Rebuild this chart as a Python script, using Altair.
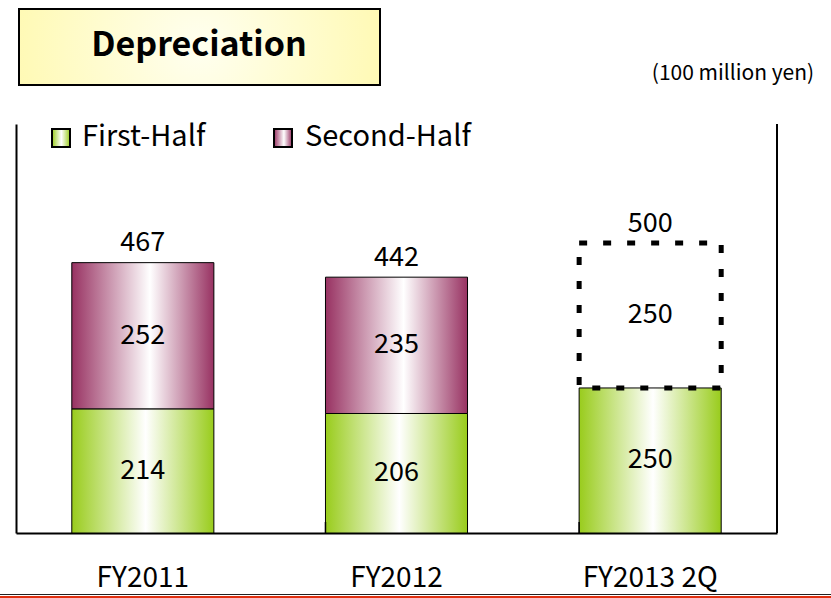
import altair as alt
import pandas as pd

# ---------------- data ----------------
categories = ["FY2011", "FY2012", "FY2013 2Q"]
series_names = ["First-Half", "Second-Half"]
first_half = [214, 206, 250]
second_half = [252, 235, 250]
totals = [467, 442, 500]
second_is_plan = [False, False, True]

FONT = "Noto Sans CJK JP"
W, H = 761, 409

rows = []
for c, f, s, p in zip(categories, first_half, second_half, second_is_plan):
    rows.append(dict(cat=c, seg=series_names[0], y0=0, y1=f, mid=f / 2, label=str(f), plan=False))
    rows.append(dict(cat=c, seg=series_names[1], y0=f, y1=f + s, mid=f + s / 2, label=str(s), plan=p))
seg_df = pd.DataFrame(rows)
tot_df = pd.DataFrame(dict(cat=categories, total=totals))
tick_df = pd.DataFrame(dict(cat=categories[1:]))
one = pd.DataFrame({"k": [0]})

xscale = alt.Scale(domain=categories, paddingInner=0.44, paddingOuter=0.22)
yscale = alt.Scale(domain=[0, 705], nice=False, zero=True)
xaxis = alt.Axis(title=None, ticks=False, labelAngle=0, labelFontSize=28, labelFont=FONT,
                 labelColor="black", labelPadding=31, domainColor="black", domainWidth=2)
yaxis = alt.Axis(title=None, labels=False, ticks=False, grid=False, domainColor="black", domainWidth=2)


def X(**kw):
    return alt.X("cat:N", scale=xscale, axis=xaxis, sort=categories, **kw)


def grad(edge, mid="#ffffff", at=0.55):
    return alt.Gradient(
        gradient="linear", x1=0, x2=1, y1=0, y2=0,
        stops=[alt.GradientStop(color=edge, offset=0),
               alt.GradientStop(color=mid, offset=at),
               alt.GradientStop(color=edge, offset=1)],
    )


green = grad("#99cc1c", at=0.52)
purple = grad("#983262", at=0.55)
yellow = alt.Gradient(
    gradient="radial", x1=0.5, y1=0.5, r1=0, x2=0.5, y2=0.5, r2=0.75,
    stops=[alt.GradientStop(color="#fffff0", offset=0),
           alt.GradientStop(color="#fff799", offset=1)],
)

base = alt.Chart(seg_df)

first_bars = base.transform_filter(alt.datum.seg == series_names[0]).mark_bar(
    fill=green, stroke="black", strokeWidth=1
).encode(x=X(), y=alt.Y("y0:Q", scale=yscale, axis=yaxis), y2="y1:Q")

second_bars = base.transform_filter(
    (alt.datum.seg == series_names[1]) & (alt.datum.plan == False)
).mark_bar(fill=purple, stroke="black", strokeWidth=1).encode(
    x=X(), y=alt.Y("y0:Q", scale=yscale, axis=yaxis), y2="y1:Q")

plan_bars = base.transform_filter(
    (alt.datum.seg == series_names[1]) & (alt.datum.plan == True)
).mark_bar(fill="white", fillOpacity=0, stroke="black", strokeWidth=5, strokeDash=[8, 16]).encode(
    x=X(), y=alt.Y("y0:Q", scale=yscale, axis=yaxis), y2="y1:Q")

seg_text = base.mark_text(font=FONT, fontSize=27, color="black").encode(
    x=X(), y=alt.Y("mid:Q", scale=yscale, axis=yaxis), text="label:N")

tot_text = alt.Chart(tot_df).mark_text(
    font=FONT, fontSize=27, color="black", baseline="bottom", dy=-5
).encode(x=X(), y=alt.Y("total:Q", scale=yscale, axis=yaxis), text="total:Q")

ticks = alt.Chart(tick_df).mark_rule(color="black", strokeWidth=1.5).encode(
    x=X(bandPosition=0), y=alt.value(H - 11), y2=alt.value(H))

right_line = alt.Chart(one).mark_rule(color="black", strokeWidth=2).encode(
    x=alt.value(W), y=alt.value(0), y2=alt.value(H))

# title box
title_box = alt.Chart(one).mark_rect(fill=yellow, stroke="black", strokeWidth=2).encode(
    x=alt.value(3), x2=alt.value(364), y=alt.value(-115), y2=alt.value(-39))
title_text = alt.Chart(one).mark_text(
    font=FONT, fontSize=34, fontWeight="bold", color="black", baseline="middle"
).encode(x=alt.value(183), y=alt.value(-78), text=alt.value("Depreciation"))
unit_text = alt.Chart(one).mark_text(
    font=FONT, fontSize=21, color="black", baseline="middle"
).encode(x=alt.value(717), y=alt.value(-50), text=alt.value("(100 million yen)"))

# legend
leg_green = alt.Chart(one).mark_rect(fill=green, stroke="black", strokeWidth=2).encode(
    x=alt.value(36), x2=alt.value(54), y=alt.value(5), y2=alt.value(23))
leg_purple = alt.Chart(one).mark_rect(fill=purple, stroke="black", strokeWidth=2).encode(
    x=alt.value(258), x2=alt.value(276), y=alt.value(5), y2=alt.value(23))
leg_t1 = alt.Chart(one).mark_text(
    font=FONT, fontSize=29, color="black", align="left", baseline="middle"
).encode(x=alt.value(66), y=alt.value(13), text=alt.value(series_names[0]))
leg_t2 = alt.Chart(one).mark_text(
    font=FONT, fontSize=29, color="black", align="left", baseline="middle"
).encode(x=alt.value(289), y=alt.value(13), text=alt.value(series_names[1]))

# bottom border lines
bot_black = alt.Chart(one).mark_rule(color="#222222", strokeWidth=1).encode(
    x=alt.value(-16), x2=alt.value(815), y=alt.value(470.5))
bot_red = alt.Chart(one).mark_rule(color="#e03010", strokeWidth=3).encode(
    x=alt.value(-16), x2=alt.value(815), y=alt.value(473.5))

chart = alt.layer(
    first_bars, second_bars, plan_bars, seg_text, tot_text, ticks, right_line,
    title_box, title_text, unit_text, leg_green, leg_purple, leg_t1, leg_t2,
    bot_black, bot_red,
).properties(
    width=W, height=H,
    autosize=alt.AutoSizeParams(type="none"),
    padding={"left": 16, "top": 124, "right": 54, "bottom": 65},
    background="white",
).configure_view(strokeWidth=0)

chart.save("out.html", embed_options={"renderer": "svg", "actions": False})
